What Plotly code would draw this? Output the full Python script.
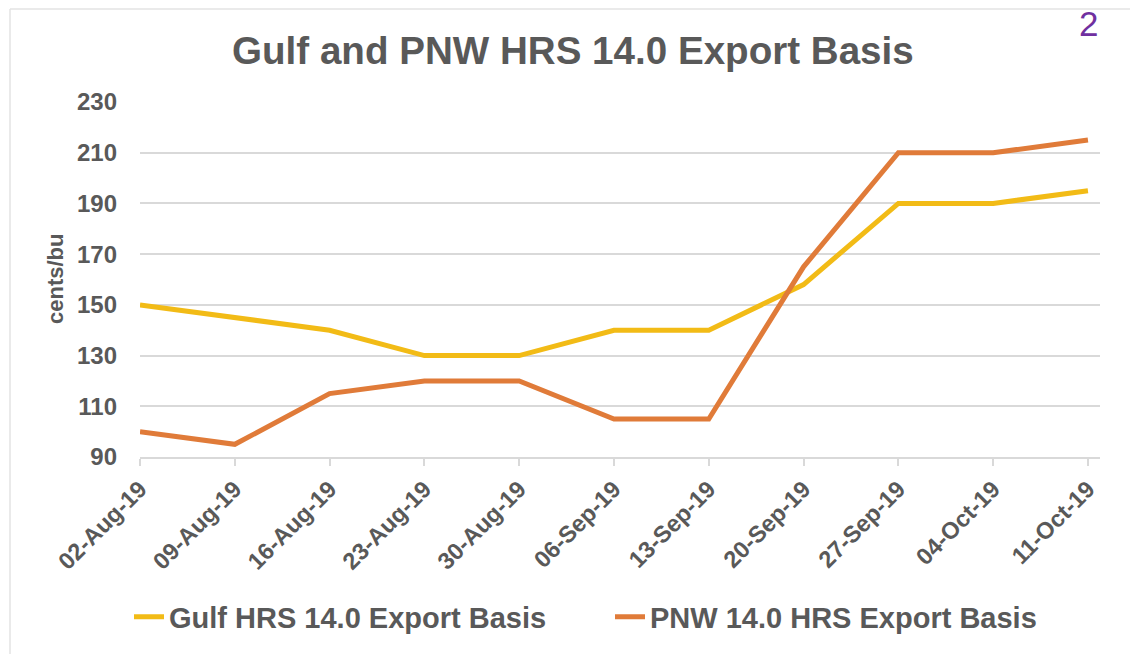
import plotly.graph_objects as go

dates = ["02-Aug-19", "09-Aug-19", "16-Aug-19", "23-Aug-19", "30-Aug-19", "06-Sep-19",
         "13-Sep-19", "20-Sep-19", "27-Sep-19", "04-Oct-19", "11-Oct-19"]
gulf = [150, 145, 140, 130, 130, 140, 140, 158, 190, 190, 195]
pnw = [100, 95, 115, 120, 120, 105, 105, 165, 210, 210, 215]
y_ticks = [90, 110, 130, 150, 170, 190, 210, 230]

GRAY = "#595959"
FONT = "Liberation Sans, Arial, sans-serif"
idx = list(range(len(dates)))

fig = go.Figure()
fig.add_trace(go.Scatter(x=idx, y=gulf, mode="lines", name="Gulf HRS 14.0 Export Basis",
                         line=dict(color="#F2BB16", width=5)))
fig.add_trace(go.Scatter(x=idx, y=pnw, mode="lines", name="PNW 14.0 HRS Export Basis",
                         line=dict(color="#E07B39", width=5)))

fig.update_layout(
    width=1130, height=654,
    margin=dict(l=140, r=30, t=102, b=197),
    paper_bgcolor="white", plot_bgcolor="white",
    font=dict(family=FONT, color=GRAY),
    title=dict(text="Gulf and PNW HRS 14.0 Export Basis",
               font=dict(size=38.6, weight="bold", color=GRAY, family=FONT),
               xref="container", x=0.507, xanchor="center",
               yref="container", y=1 - 50 / 654, yanchor="middle"),
    xaxis=dict(range=[0, 10.127], tickvals=idx, ticktext=dates, tickangle=-45,
               showgrid=False, zeroline=False, showline=True, linecolor="#D9D9D9", linewidth=2,
               ticks="outside", ticklen=7, tickcolor="#D9D9D9", tickwidth=1.5,
               tickfont=dict(size=23.5, weight="bold", color=GRAY, family=FONT)),
    yaxis=dict(range=[90, 230], tickvals=y_ticks, showgrid=True, gridcolor="#D9D9D9", gridwidth=1.5,
               zeroline=False, showline=False, ticks="", ticklabelstandoff=22,
               tickfont=dict(size=24, weight="bold", color=GRAY, family=FONT)),
    legend=dict(orientation="h", x=(129 - 140) / 960, xanchor="left", y=-(617 - 457) / 355,
                yanchor="middle", entrywidth=436,
                font=dict(size=29, weight="bold", color=GRAY, family=FONT),
                bgcolor="rgba(0,0,0,0)"),
    showlegend=True,
)

fig.add_annotation(text="cents/bu", textangle=-90, xref="paper", yref="paper",
                   x=(55 - 140) / 960, y=(457 - 279) / 355, xanchor="center", yanchor="middle",
                   showarrow=False, font=dict(size=22, weight="bold", color=GRAY, family=FONT))
fig.add_annotation(text="2", xref="paper", yref="paper",
                   x=(1088 - 140) / 960, y=(457 - 23) / 355, xanchor="center", yanchor="middle",
                   showarrow=False, font=dict(size=35, color="#7030A0", family=FONT))

# frame around the chart
fig.add_shape(type="line", xref="paper", yref="paper", x0=(10 - 140) / 960, x1=(1140 - 140) / 960,
              y0=(457 - 9) / 355, y1=(457 - 9) / 355, line=dict(color="#E3E3E3", width=1.5))
fig.add_shape(type="line", xref="paper", yref="paper", x0=(10 - 140) / 960, x1=(10 - 140) / 960,
              y0=(457 - 9) / 355, y1=(457 - 660) / 355, line=dict(color="#E3E3E3", width=1.5))

fig.write_html("out.html", config={"displayModeBar": False},
               post_script="document.body.style.margin='0';document.body.style.overflow='hidden';")
